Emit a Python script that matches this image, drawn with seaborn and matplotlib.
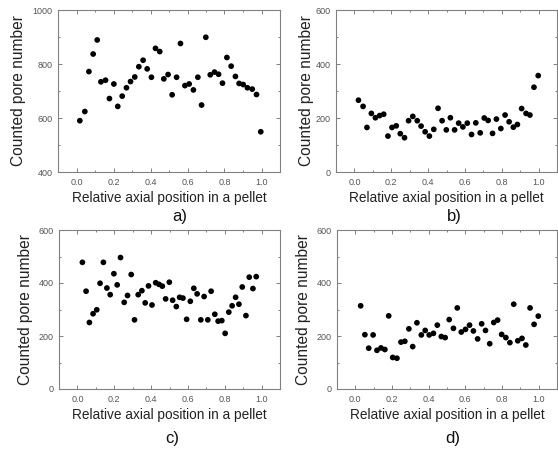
import matplotlib
matplotlib.use("Agg")
import matplotlib.pyplot as plt
import seaborn as sns
import pandas as pd
from matplotlib.ticker import MultipleLocator

# ---------------- data ----------------
a_x = [0.018, 0.045, 0.067, 0.090, 0.112, 0.132, 0.157, 0.178, 0.202, 0.223, 0.247,
       0.270, 0.292, 0.315, 0.337, 0.360, 0.382, 0.405, 0.427, 0.450, 0.472, 0.495,
       0.517, 0.541, 0.562, 0.586, 0.609, 0.632, 0.656, 0.676, 0.699, 0.723, 0.746,
       0.768, 0.789, 0.813, 0.836, 0.859, 0.879, 0.901, 0.924, 0.950, 0.973, 0.996]
a_y = [590, 624, 772, 837, 889, 734, 740, 672, 726, 643, 681, 712, 735, 752, 790,
       814, 782, 751, 858, 846, 745, 761, 686, 751, 876, 720, 726, 704, 751, 648,
       899, 760, 770, 762, 729, 824, 792, 754, 728, 724, 712, 707, 687, 549]

b_x = [0.022, 0.047, 0.068, 0.092, 0.114, 0.137, 0.159, 0.182, 0.204, 0.227, 0.249,
       0.272, 0.294, 0.317, 0.341, 0.362, 0.384, 0.407, 0.431, 0.454, 0.476, 0.499,
       0.521, 0.544, 0.566, 0.589, 0.613, 0.636, 0.659, 0.683, 0.705, 0.726, 0.750,
       0.771, 0.795, 0.818, 0.840, 0.863, 0.885, 0.908, 0.932, 0.953, 0.975, 0.998]
b_y = [266, 243, 165, 217, 201, 209, 214, 133, 165, 171, 142, 127, 190, 206, 190,
       170, 149, 133, 158, 236, 190, 156, 201, 156, 181, 167, 181, 139, 182, 145,
       200, 191, 143, 196, 161, 211, 186, 166, 176, 235, 217, 211, 314, 357]

c_x = [0.027, 0.047, 0.065, 0.085, 0.105, 0.123, 0.141, 0.160, 0.178, 0.198, 0.216,
       0.234, 0.254, 0.272, 0.292, 0.310, 0.330, 0.350, 0.368, 0.386, 0.405, 0.425,
       0.443, 0.461, 0.479, 0.499, 0.517, 0.537, 0.555, 0.573, 0.593, 0.613, 0.632,
       0.650, 0.670, 0.688, 0.708, 0.726, 0.746, 0.764, 0.784, 0.802, 0.822, 0.840,
       0.859, 0.877, 0.895, 0.915, 0.933, 0.953, 0.971]
c_y = [478, 369, 251, 284, 299, 399, 478, 381, 356, 435, 393, 496, 327, 353, 432,
       261, 356, 371, 325, 389, 317, 401, 395, 388, 340, 403, 335, 311, 346, 343,
       263, 331, 380, 359, 261, 349, 261, 369, 282, 256, 258, 210, 290, 314, 346,
       320, 385, 277, 422, 379, 424]

d_x = [0.029, 0.052, 0.073, 0.097, 0.118, 0.140, 0.161, 0.182, 0.204, 0.227, 0.249,
       0.270, 0.292, 0.313, 0.336, 0.360, 0.381, 0.403, 0.426, 0.447, 0.469, 0.490,
       0.512, 0.535, 0.556, 0.578, 0.601, 0.623, 0.644, 0.667, 0.689, 0.710, 0.733,
       0.755, 0.776, 0.798, 0.821, 0.843, 0.864, 0.886, 0.909, 0.930, 0.953, 0.975,
       0.998]
d_y = [314, 205, 154, 204, 146, 155, 149, 276, 119, 116, 177, 180, 227, 160, 250,
       204, 221, 204, 210, 241, 198, 194, 262, 229, 306, 215, 225, 241, 219, 189,
       246, 221, 171, 251, 260, 206, 194, 175, 320, 182, 191, 166, 306, 244, 275]

panel_letters = ["a)", "b)", "c)", "d)"]
y_limits = [(400, 1000), (0, 600), (0, 600), (0, 600)]
x_ticks = [0.0, 0.2, 0.4, 0.6, 0.8, 1.0]
x_label = "Relative axial position in a pellet"
y_label = "Counted pore number"

# ---------------- style ----------------
sns.set_theme(style="ticks")
plt.rcParams["font.family"] = ["Liberation Sans", "DejaVu Sans"]

W, H = 558, 450
fig = plt.figure(figsize=(W / 100, H / 100), dpi=100)
fig.patch.set_facecolor("white")

# axes rectangles in pixels: left, top, right, bottom
rects = [(58, 10, 280, 172), (336, 10, 557, 172),
         (59, 230, 280, 389), (337, 230, 557, 389)]
ylab_x = [-0.145, -0.10, -0.117, -0.117]
letter_pos = [(180, 217), (454, 217), (172, 439), (453, 439)]

datasets = [(a_x, a_y), (b_x, b_y), (c_x, c_y), (d_x, d_y)]
spine_col = "#808080"
tick_col = "#555555"

for i, ((xs, ys), (l, t, r, b)) in enumerate(zip(datasets, rects)):
    ax = fig.add_axes([l / W, 1 - b / H, (r - l) / W, (b - t) / H])
    df = pd.DataFrame({"x": xs, "y": ys})
    sns.scatterplot(data=df, x="x", y="y", ax=ax, color="black", s=17,
                    edgecolor="none", linewidth=0)
    ax.set_xlim(-0.1, 1.1)
    ax.set_ylim(*y_limits[i])
    ax.set_xticks(x_ticks)
    ax.set_xticklabels([f"{v:.1f}" for v in x_ticks])
    ax.xaxis.set_minor_locator(MultipleLocator(0.1))
    ax.set_yticks([y_limits[i][0] + k * 200 for k in range(4)])
    ax.yaxis.set_minor_locator(MultipleLocator(100))
    ax.tick_params(which="both", direction="in", top=True, right=True,
                   colors=spine_col, labelcolor=tick_col, labelsize=6.5, width=0.7)
    ax.tick_params(which="major", length=3, pad=4)
    ax.tick_params(which="minor", length=1.6)
    for sp in ax.spines.values():
        sp.set_color(spine_col)
        sp.set_linewidth(0.8)
    ax.set_xlabel(x_label, fontsize=9.8, color="#222222", labelpad=3.5)
    ax.set_ylabel(y_label, fontsize=11.2, color="#222222")
    ax.yaxis.set_label_coords(ylab_x[i], 0.5)
    ax.set_facecolor("white")
    lx, ly = letter_pos[i]
    fig.text(lx / W, 1 - ly / H, panel_letters[i], fontsize=12, ha="center",
             va="center", color="#111111")

fig.savefig("out.png", dpi=100, facecolor="white")
